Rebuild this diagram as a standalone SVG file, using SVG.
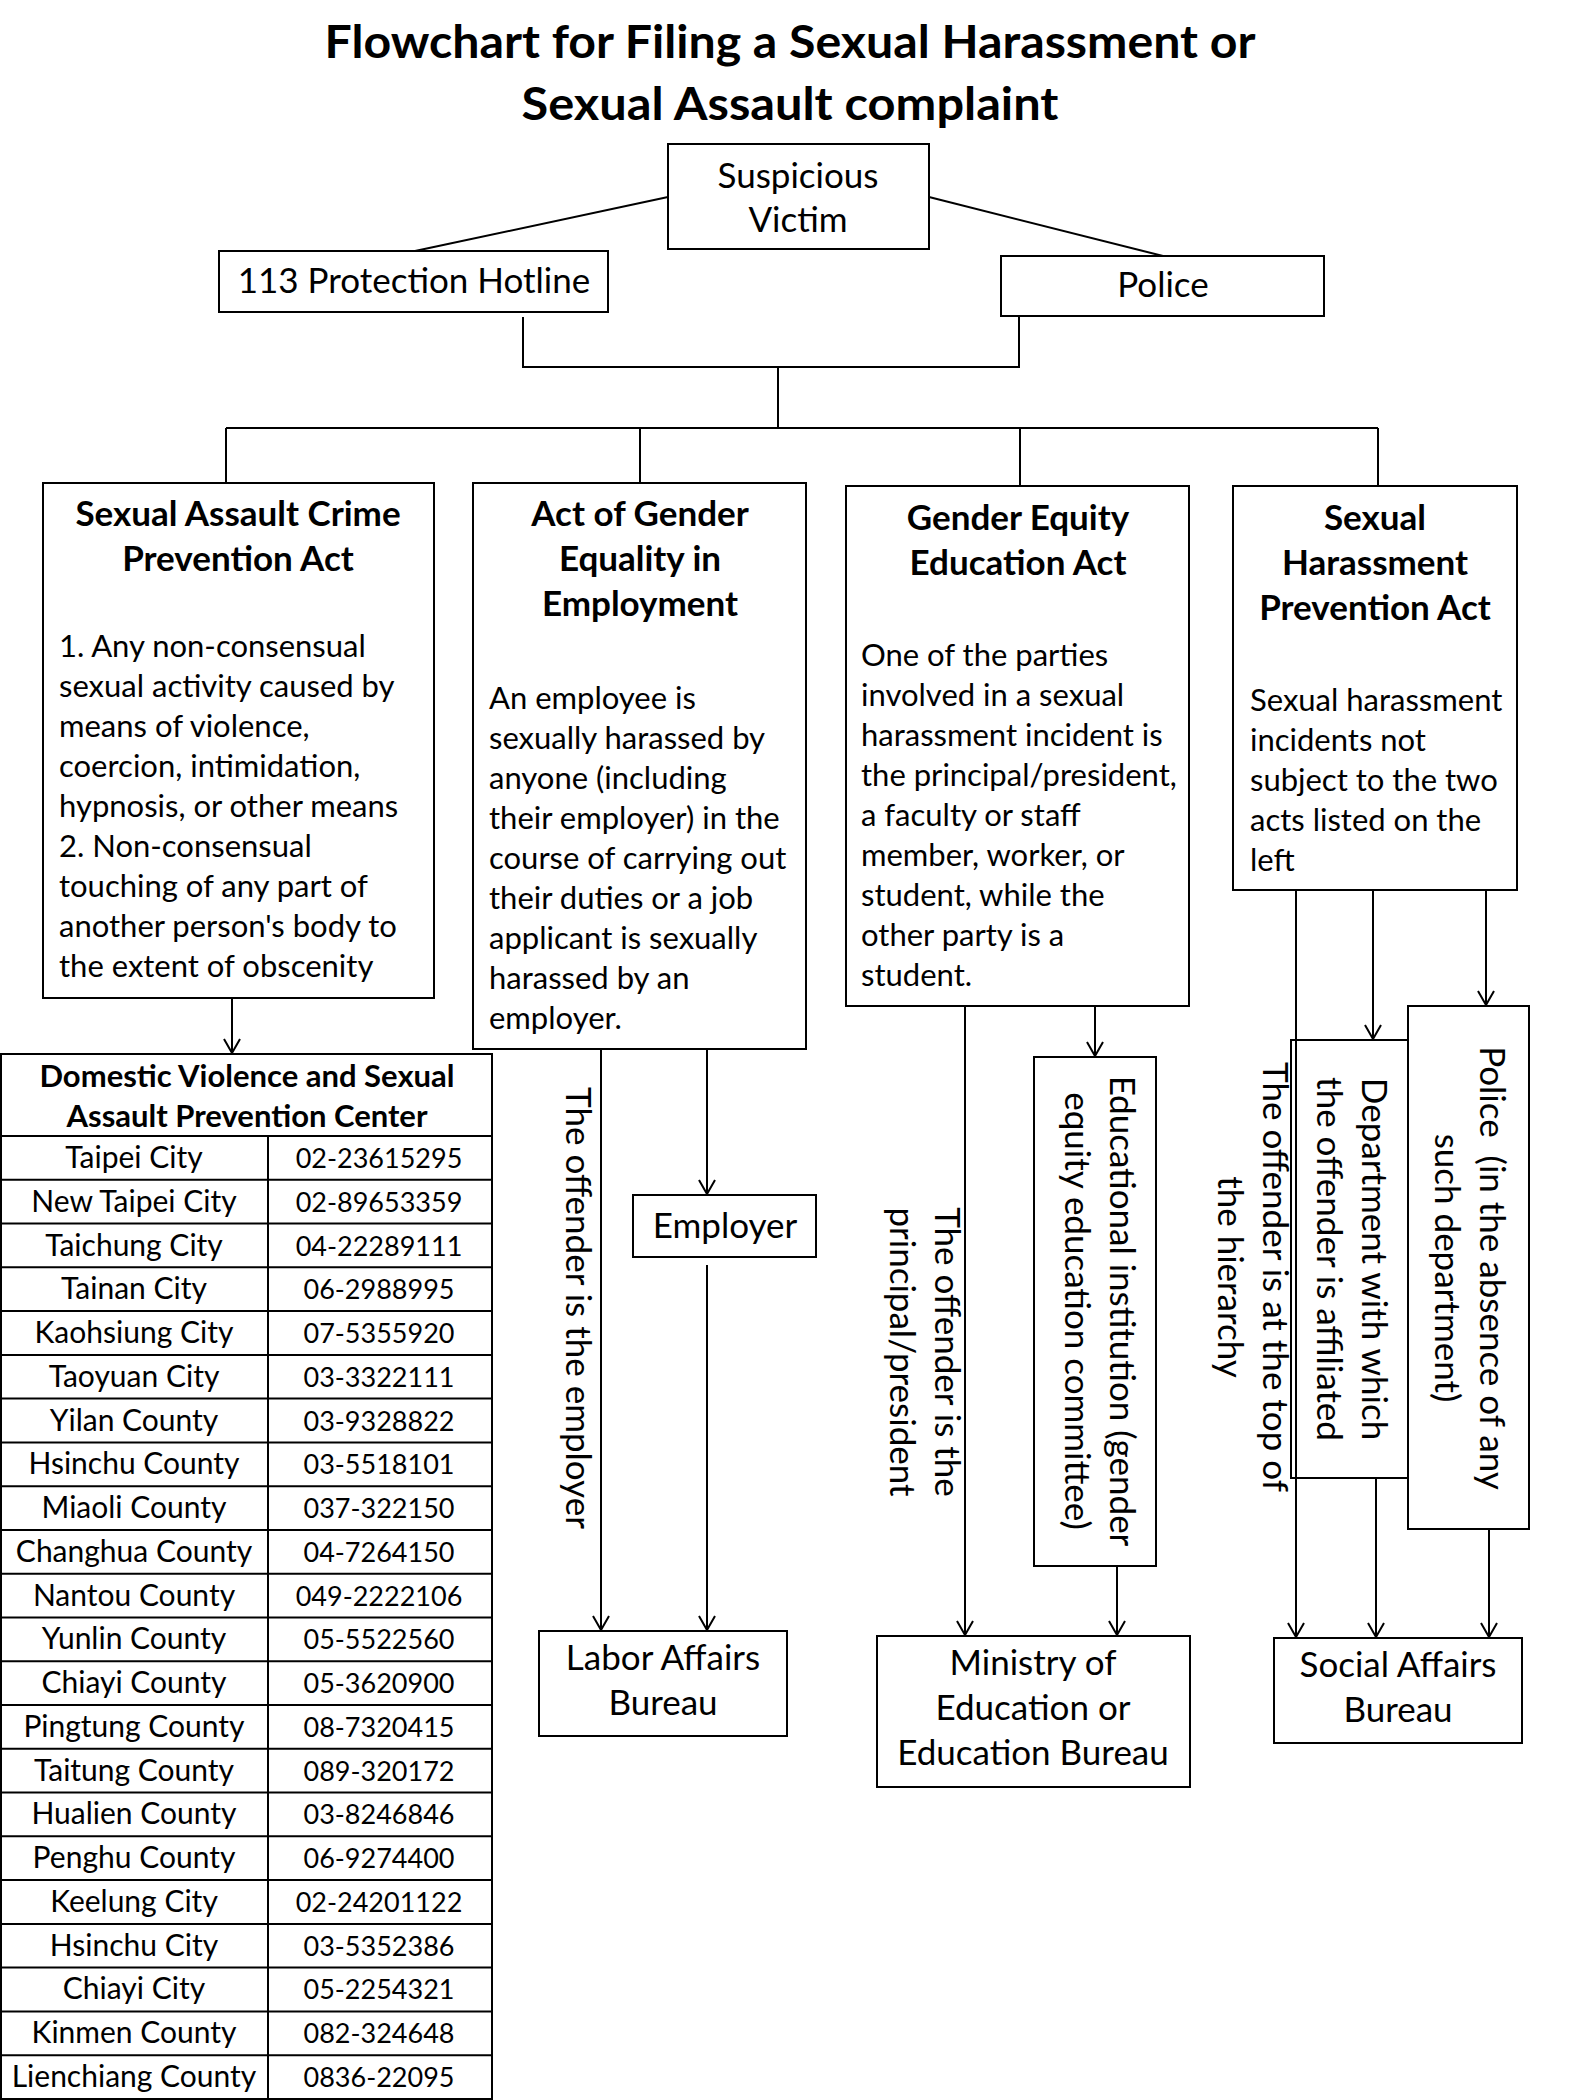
<svg xmlns="http://www.w3.org/2000/svg" width="1575" height="2100" viewBox="0 0 1575 2100">
<style>
text{font-family:Lato,"Liberation Sans",sans-serif;fill:#000}
.box{fill:#fff;stroke:#000;stroke-width:2}
.ln{fill:none;stroke:#000;stroke-width:2}
.title{font-size:46px;font-weight:bold;text-anchor:middle}
.hd{font-size:35px;font-weight:bold;text-anchor:middle}
.bd{font-size:31px}
.lb{font-size:35px;text-anchor:middle}
.rt{font-size:35px;text-anchor:middle}
.th{font-size:31px;font-weight:bold;text-anchor:middle}
.tn{font-size:30px;text-anchor:middle}
.tp{font-size:27px;text-anchor:middle}
</style>
<defs>
<marker id="arr" markerUnits="userSpaceOnUse" markerWidth="18" markerHeight="18" viewBox="0 0 18 18" refX="16" refY="9" orient="auto">
<path d="M2,1 L16,9 L2,17" fill="none" stroke="#000" stroke-width="2"/>
</marker>
</defs>
<rect width="1575" height="2100" fill="#fff"/>

<g id="title">
<text class="title" x="790" y="58" textLength="931" lengthAdjust="spacingAndGlyphs">Flowchart for Filing a Sexual Harassment or</text>
<text class="title" x="790" y="120" textLength="537" lengthAdjust="spacingAndGlyphs">Sexual Assault complaint</text>
</g>

<g id="connectors">
<line class="ln" x1="668" y1="197" x2="415" y2="251"/>
<line class="ln" x1="929" y1="197" x2="1163" y2="256"/>
<polyline class="ln" points="523,317 523,367 1019,367 1019,316"/>
<line class="ln" x1="778" y1="367" x2="778" y2="428"/>
<line class="ln" x1="226" y1="428" x2="1378" y2="428"/>
<line class="ln" x1="226" y1="428" x2="226" y2="483"/>
<line class="ln" x1="640" y1="428" x2="640" y2="483"/>
<line class="ln" x1="1020" y1="428" x2="1020" y2="486"/>
<line class="ln" x1="1378" y1="428" x2="1378" y2="486"/>
<line class="ln" x1="232" y1="998" x2="232" y2="1053" marker-end="url(#arr)"/>
<line class="ln" x1="601" y1="1049" x2="601" y2="1630" marker-end="url(#arr)"/>
<line class="ln" x1="707" y1="1049" x2="707" y2="1194" marker-end="url(#arr)"/>
<line class="ln" x1="707" y1="1265" x2="707" y2="1630" marker-end="url(#arr)"/>
<line class="ln" x1="965" y1="1006" x2="965" y2="1635" marker-end="url(#arr)"/>
<line class="ln" x1="1095" y1="1006" x2="1095" y2="1056" marker-end="url(#arr)"/>
<line class="ln" x1="1117" y1="1566" x2="1117" y2="1635" marker-end="url(#arr)"/>
<line class="ln" x1="1373" y1="890" x2="1373" y2="1039" marker-end="url(#arr)"/>
<line class="ln" x1="1486" y1="890" x2="1486" y2="1005" marker-end="url(#arr)"/>
<line class="ln" x1="1376" y1="1478" x2="1376" y2="1637" marker-end="url(#arr)"/>
<line class="ln" x1="1489" y1="1529" x2="1489" y2="1637" marker-end="url(#arr)"/>
</g>

<g id="victim">
<rect class="box" x="668" y="144" width="261" height="105"/>
<text class="lb" x="798" y="188">Suspicious</text>
<text class="lb" x="798" y="232">Victim</text>
</g>

<g id="hotline">
<rect class="box" x="219" y="251" width="389" height="61"/>
<text class="lb" x="414" y="293">113 Protection Hotline</text>
</g>

<g id="police">
<rect class="box" x="1001" y="256" width="323" height="60"/>
<text class="lb" x="1163" y="297">Police</text>
</g>

<g id="act1">
<rect class="box" x="43" y="483" width="391" height="515"/>
<text class="hd" x="238" y="526">Sexual Assault Crime</text>
<text class="hd" x="238" y="571">Prevention Act</text>
<text class="bd" x="59" y="657">1. Any non-consensual</text>
<text class="bd" x="59" y="697">sexual activity caused by</text>
<text class="bd" x="59" y="737">means of violence,</text>
<text class="bd" x="59" y="777">coercion, intimidation,</text>
<text class="bd" x="59" y="817">hypnosis, or other means</text>
<text class="bd" x="59" y="857">2. Non-consensual</text>
<text class="bd" x="59" y="897">touching of any part of</text>
<text class="bd" x="59" y="937">another person's body to</text>
<text class="bd" x="59" y="977">the extent of obscenity</text>
</g>

<g id="act2">
<rect class="box" x="473" y="483" width="333" height="566"/>
<text class="hd" x="640" y="526">Act of Gender</text>
<text class="hd" x="640" y="571">Equality in</text>
<text class="hd" x="640" y="616">Employment</text>
<text class="bd" x="489" y="709">An employee is</text>
<text class="bd" x="489" y="749">sexually harassed by</text>
<text class="bd" x="489" y="789">anyone (including</text>
<text class="bd" x="489" y="829">their employer) in the</text>
<text class="bd" x="489" y="869">course of carrying out</text>
<text class="bd" x="489" y="909">their duties or a job</text>
<text class="bd" x="489" y="949">applicant is sexually</text>
<text class="bd" x="489" y="989">harassed by an</text>
<text class="bd" x="489" y="1029">employer.</text>
</g>

<g id="act3">
<rect class="box" x="846" y="486" width="343" height="520"/>
<text class="hd" x="1018" y="530">Gender Equity</text>
<text class="hd" x="1018" y="575">Education Act</text>
<text class="bd" x="861" y="666">One of the parties</text>
<text class="bd" x="861" y="706">involved in a sexual</text>
<text class="bd" x="861" y="746">harassment incident is</text>
<text class="bd" x="861" y="786">the principal/president,</text>
<text class="bd" x="861" y="826">a faculty or staff</text>
<text class="bd" x="861" y="866">member, worker, or</text>
<text class="bd" x="861" y="906">student, while the</text>
<text class="bd" x="861" y="946">other party is a</text>
<text class="bd" x="861" y="986">student.</text>
</g>

<g id="act4">
<rect class="box" x="1233" y="486" width="284" height="404"/>
<text class="hd" x="1375" y="530">Sexual</text>
<text class="hd" x="1375" y="575">Harassment</text>
<text class="hd" x="1375" y="620">Prevention Act</text>
<text class="bd" x="1250" y="711">Sexual harassment</text>
<text class="bd" x="1250" y="751">incidents not</text>
<text class="bd" x="1250" y="791">subject to the two</text>
<text class="bd" x="1250" y="831">acts listed on the</text>
<text class="bd" x="1250" y="871">left</text>
</g>

<g id="label-employer-offender">
<text class="rt" transform="translate(566,1308) rotate(90)" x="0" y="0">The offender is the employer</text>
</g>

<g id="employer">
<rect class="box" x="633" y="1195" width="183" height="62"/>
<text class="lb" x="725" y="1238">Employer</text>
</g>

<g id="labor">
<rect class="box" x="539" y="1631" width="248" height="105"/>
<text class="lb" x="663" y="1670">Labor Affairs</text>
<text class="lb" x="663" y="1715">Bureau</text>
</g>

<g id="label-principal">
<text class="rt" transform="translate(935,1352) rotate(90)"><tspan x="0" y="0">The offender is the</tspan><tspan x="0" y="45">principal/president</tspan></text>
</g>

<g id="edu-institution">
<rect class="box" x="1034" y="1057" width="122" height="509"/>
<text class="rt" transform="translate(1110,1311) rotate(90)"><tspan x="0" y="0">Educational institution (gender</tspan><tspan x="0" y="45">equity education committee)</tspan></text>
</g>

<g id="ministry">
<rect class="box" x="877" y="1636" width="313" height="151"/>
<text class="lb" x="1033" y="1675">Ministry of</text>
<text class="lb" x="1033" y="1720">Education or</text>
<text class="lb" x="1033" y="1765">Education Bureau</text>
</g>

<g id="label-hierarchy">
<text class="rt" transform="translate(1263,1277) rotate(90)"><tspan x="0" y="0">The offender is at the top of</tspan><tspan x="0" y="45">the hierarchy</tspan></text>
</g>

<g id="department">
<rect class="box" x="1291" y="1040" width="121" height="438"/>
<text class="rt" transform="translate(1362,1259) rotate(90)"><tspan x="0" y="0">Department with which</tspan><tspan x="0" y="45">the offender is affiliated</tspan></text>
</g>

<g id="police-dept">
<rect class="box" x="1408" y="1006" width="121" height="523"/>
<text class="rt" transform="translate(1480,1268) rotate(90)"><tspan x="0" y="0">Police&#160; (in the absence of any</tspan><tspan x="0" y="45">such department)</tspan></text>
</g>

<line class="ln" x1="1296" y1="890" x2="1296" y2="1637" marker-end="url(#arr)"/>

<g id="social">
<rect class="box" x="1274" y="1638" width="248" height="105"/>
<text class="lb" x="1398" y="1677">Social Affairs</text>
<text class="lb" x="1398" y="1722">Bureau</text>
</g>

<g id="table">
<rect x="1" y="1054" width="491" height="1045" fill="#fff" stroke="#000" stroke-width="2"/>
<text class="th" x="247" y="1087">Domestic Violence and Sexual</text>
<text class="th" x="247" y="1127">Assault Prevention Center</text>
<g stroke="#000" stroke-width="2">
<line x1="1" y1="1136" x2="492" y2="1136"/>
<line x1="268" y1="1136" x2="268" y2="2099"/>
<line x1="1" y1="1179.8" x2="492" y2="1179.8"/>
<line x1="1" y1="1223.5" x2="492" y2="1223.5"/>
<line x1="1" y1="1267.3" x2="492" y2="1267.3"/>
<line x1="1" y1="1311.1" x2="492" y2="1311.1"/>
<line x1="1" y1="1354.9" x2="492" y2="1354.9"/>
<line x1="1" y1="1398.6" x2="492" y2="1398.6"/>
<line x1="1" y1="1442.4" x2="492" y2="1442.4"/>
<line x1="1" y1="1486.2" x2="492" y2="1486.2"/>
<line x1="1" y1="1529.9" x2="492" y2="1529.9"/>
<line x1="1" y1="1573.7" x2="492" y2="1573.7"/>
<line x1="1" y1="1617.5" x2="492" y2="1617.5"/>
<line x1="1" y1="1661.2" x2="492" y2="1661.2"/>
<line x1="1" y1="1705" x2="492" y2="1705"/>
<line x1="1" y1="1748.8" x2="492" y2="1748.8"/>
<line x1="1" y1="1792.6" x2="492" y2="1792.6"/>
<line x1="1" y1="1836.3" x2="492" y2="1836.3"/>
<line x1="1" y1="1880.1" x2="492" y2="1880.1"/>
<line x1="1" y1="1923.9" x2="492" y2="1923.9"/>
<line x1="1" y1="1967.6" x2="492" y2="1967.6"/>
<line x1="1" y1="2011.4" x2="492" y2="2011.4"/>
<line x1="1" y1="2055.2" x2="492" y2="2055.2"/>
</g>
<text class="tn" x="134" y="1168">Taipei City</text><text class="tp" x="379" y="1168">02-23615295</text>
<text class="tn" x="134" y="1212">New Taipei City</text><text class="tp" x="379" y="1212">02-89653359</text>
<text class="tn" x="134" y="1256">Taichung City</text><text class="tp" x="379" y="1256">04-22289111</text>
<text class="tn" x="134" y="1299">Tainan City</text><text class="tp" x="379" y="1299">06-2988995</text>
<text class="tn" x="134" y="1343">Kaohsiung City</text><text class="tp" x="379" y="1343">07-5355920</text>
<text class="tn" x="134" y="1387">Taoyuan City</text><text class="tp" x="379" y="1387">03-3322111</text>
<text class="tn" x="134" y="1431">Yilan County</text><text class="tp" x="379" y="1431">03-9328822</text>
<text class="tn" x="134" y="1474">Hsinchu County</text><text class="tp" x="379" y="1474">03-5518101</text>
<text class="tn" x="134" y="1518">Miaoli County</text><text class="tp" x="379" y="1518">037-322150</text>
<text class="tn" x="134" y="1562">Changhua County</text><text class="tp" x="379" y="1562">04-7264150</text>
<text class="tn" x="134" y="1606">Nantou County</text><text class="tp" x="379" y="1606">049-2222106</text>
<text class="tn" x="134" y="1649">Yunlin County</text><text class="tp" x="379" y="1649">05-5522560</text>
<text class="tn" x="134" y="1693">Chiayi County</text><text class="tp" x="379" y="1693">05-3620900</text>
<text class="tn" x="134" y="1737">Pingtung County</text><text class="tp" x="379" y="1737">08-7320415</text>
<text class="tn" x="134" y="1781">Taitung County</text><text class="tp" x="379" y="1781">089-320172</text>
<text class="tn" x="134" y="1824">Hualien County</text><text class="tp" x="379" y="1824">03-8246846</text>
<text class="tn" x="134" y="1868">Penghu County</text><text class="tp" x="379" y="1868">06-9274400</text>
<text class="tn" x="134" y="1912">Keelung City</text><text class="tp" x="379" y="1912">02-24201122</text>
<text class="tn" x="134" y="1956">Hsinchu City</text><text class="tp" x="379" y="1956">03-5352386</text>
<text class="tn" x="134" y="1999">Chiayi City</text><text class="tp" x="379" y="1999">05-2254321</text>
<text class="tn" x="134" y="2043">Kinmen County</text><text class="tp" x="379" y="2043">082-324648</text>
<text class="tn" x="134" y="2087">Lienchiang County</text><text class="tp" x="379" y="2087">0836-22095</text>
</g>
</svg>
